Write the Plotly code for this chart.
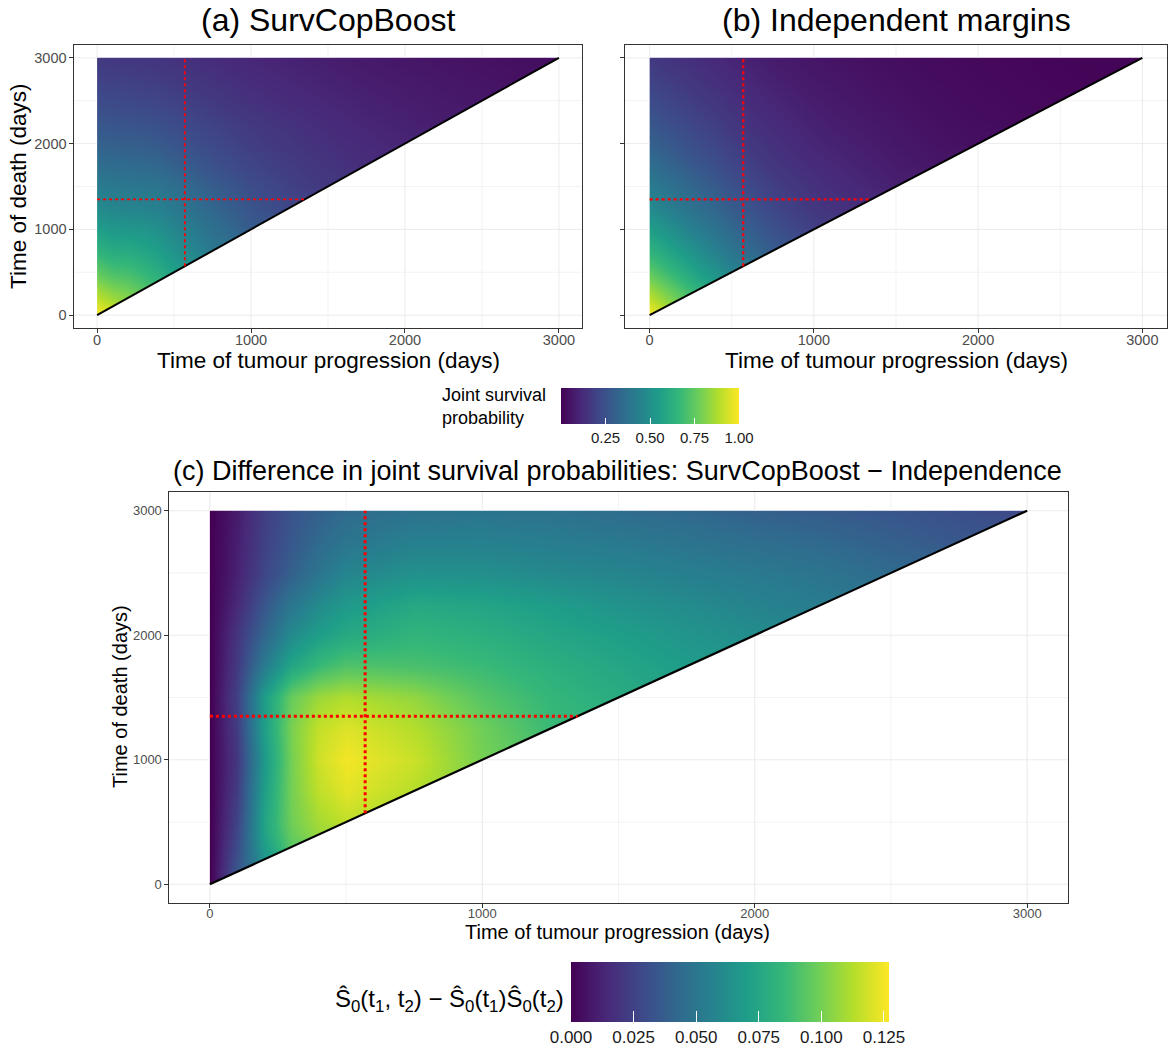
import plotly.graph_objects as go

W, H = 1168, 1052
FONT = "Liberation Sans, Arial, Helvetica, sans-serif"

# ---------------- data ----------------
# grid of times (days); rows = time of death t2, columns = time of tumour progression t1
t_grid = [0, 100, 200, 300, 400, 500, 750, 1000, 1250, 1500, 1750, 2000, 2250, 2500, 2750, 3000]

# (a) SurvCopBoost joint survival; row i holds the values for t1 <= t2
surv_boost = [
    [1.00],
    [0.95, 0.90],
    [0.90, 0.851, 0.813],
    [0.85, 0.804, 0.776, 0.732],
    [0.80, 0.756, 0.737, 0.697, 0.652],
    [0.75, 0.709, 0.697, 0.662, 0.62, 0.565],
    [0.65, 0.615, 0.611, 0.588, 0.557, 0.512, 0.406],
    [0.56, 0.531, 0.528, 0.52, 0.499, 0.461, 0.369, 0.29],
    [0.48, 0.46, 0.455, 0.45, 0.44, 0.409, 0.329, 0.262, 0.216],
    [0.42, 0.407, 0.40, 0.395, 0.388, 0.364, 0.295, 0.236, 0.197, 0.166],
    [0.36, 0.35, 0.346, 0.342, 0.331, 0.308, 0.252, 0.208, 0.177, 0.151, 0.128],
    [0.31, 0.302, 0.299, 0.294, 0.282, 0.263, 0.223, 0.185, 0.159, 0.136, 0.116, 0.101],
    [0.27, 0.261, 0.258, 0.253, 0.245, 0.23, 0.198, 0.166, 0.143, 0.122, 0.104, 0.091, 0.079],
    [0.235, 0.226, 0.222, 0.215, 0.21, 0.199, 0.17, 0.143, 0.123, 0.107, 0.093, 0.081, 0.071, 0.061],
    [0.20, 0.193, 0.191, 0.185, 0.18, 0.17, 0.146, 0.124, 0.108, 0.094, 0.081, 0.071, 0.062, 0.053, 0.045],
    [0.17, 0.165, 0.163, 0.161, 0.155, 0.146, 0.125, 0.107, 0.094, 0.081, 0.07, 0.06, 0.053, 0.046, 0.04, 0.035],
]

# (b) Independent margins joint survival
surv_indep = [
    [1.00],
    [0.95, 0.865],
    [0.90, 0.819, 0.747],
    [0.85, 0.774, 0.706, 0.638],
    [0.80, 0.728, 0.664, 0.60, 0.544],
    [0.75, 0.683, 0.623, 0.563, 0.51, 0.45],
    [0.65, 0.592, 0.54, 0.488, 0.442, 0.39, 0.293],
    [0.56, 0.51, 0.465, 0.42, 0.381, 0.336, 0.252, 0.19],
    [0.48, 0.437, 0.398, 0.36, 0.326, 0.288, 0.216, 0.163, 0.13],
    [0.42, 0.382, 0.349, 0.315, 0.286, 0.252, 0.189, 0.143, 0.113, 0.088],
    [0.36, 0.328, 0.299, 0.27, 0.245, 0.216, 0.162, 0.122, 0.097, 0.076, 0.058],
    [0.31, 0.282, 0.257, 0.233, 0.211, 0.186, 0.14, 0.105, 0.084, 0.065, 0.05, 0.039],
    [0.27, 0.246, 0.224, 0.203, 0.184, 0.162, 0.122, 0.092, 0.073, 0.057, 0.043, 0.034, 0.026],
    [0.235, 0.214, 0.195, 0.176, 0.16, 0.141, 0.106, 0.08, 0.063, 0.049, 0.038, 0.029, 0.022, 0.017],
    [0.20, 0.182, 0.166, 0.15, 0.136, 0.12, 0.09, 0.068, 0.054, 0.042, 0.032, 0.025, 0.019, 0.014, 0.01],
    [0.17, 0.155, 0.141, 0.128, 0.116, 0.102, 0.077, 0.058, 0.046, 0.036, 0.027, 0.021, 0.016, 0.012, 0.009, 0.007],
]

# (c) difference SurvCopBoost - Independence
surv_diff = [
    [0.0],
    [0.0, 0.035],
    [0.0, 0.032, 0.066],
    [0.0, 0.030, 0.070, 0.094],
    [0.0, 0.028, 0.073, 0.097, 0.108],
    [0.0, 0.026, 0.074, 0.099, 0.110, 0.115],
    [0.0, 0.023, 0.071, 0.100, 0.115, 0.122, 0.113],
    [0.0, 0.021, 0.068, 0.100, 0.118, 0.125, 0.117, 0.100],
    [0.0, 0.023, 0.071, 0.101, 0.116, 0.121, 0.113, 0.099, 0.086],
    [0.0, 0.025, 0.070, 0.097, 0.108, 0.112, 0.106, 0.093, 0.084, 0.078],
    [0.0, 0.022, 0.053, 0.075, 0.086, 0.092, 0.090, 0.086, 0.080, 0.075, 0.070],
    [0.0, 0.020, 0.042, 0.061, 0.071, 0.077, 0.083, 0.080, 0.075, 0.071, 0.066, 0.062],
    [0.0, 0.015, 0.034, 0.050, 0.061, 0.068, 0.076, 0.074, 0.070, 0.065, 0.061, 0.057, 0.053],
    [0.0, 0.012, 0.027, 0.039, 0.050, 0.058, 0.064, 0.063, 0.060, 0.058, 0.055, 0.052, 0.049, 0.044],
    [0.0, 0.011, 0.025, 0.035, 0.044, 0.050, 0.056, 0.056, 0.054, 0.052, 0.049, 0.046, 0.043, 0.039, 0.035],
    [0.0, 0.010, 0.024, 0.033, 0.039, 0.044, 0.048, 0.049, 0.048, 0.045, 0.043, 0.039, 0.037, 0.034, 0.031, 0.028],
]

marker_t1 = 570    # red dotted reference: time of progression
marker_t2 = 1350   # red dotted reference: time of death
t_max = 3000

axis_ticks = [0, 1000, 2000, 3000]
minor_ticks = [500, 1500, 2500]
cb1_ticks = [0.25, 0.50, 0.75, 1.00]
cb1_text = ["0.25", "0.50", "0.75", "1.00"]
cb2_ticks = [0.000, 0.025, 0.050, 0.075, 0.100, 0.125]
cb2_text = ["0.000", "0.025", "0.050", "0.075", "0.100", "0.125"]
cb1_range = (0.0, 1.0)
cb2_range = (0.0, 0.127)

# ---------------- helpers ----------------
def pad(rows):
    n = len(t_grid)
    return [r + [None] * (n - len(r)) for r in rows]

def fx(p):
    return p / W

def fy(p):
    return 1 - p / H

RANGE = [-150, 3150]
LO, HI = RANGE[0] - 80, RANGE[1] + 80

panels = [
    dict(xa="x", ya="y", xd=(74, 582), yd=(45, 328), z=surv_boost, ca="coloraxis",
         grid_w=(1.0, 0.6), diag_w=2.0, red_w=1.8, ylabels=True, tick_size=14.5),
    dict(xa="x2", ya="y2", xd=(625, 1167), yd=(45, 328), z=surv_indep, ca="coloraxis",
         grid_w=(1.0, 0.6), diag_w=2.0, red_w=2.2, ylabels=False, tick_size=14.5),
    dict(xa="x3", ya="y3", xd=(169, 1068), yd=(492, 903), z=surv_diff, ca="coloraxis2",
         grid_w=(1.1, 0.6), diag_w=2.2, red_w=3.0, ylabels=True, tick_size=13),
]

fig = go.Figure()

for p in panels:
    xa, ya = p["xa"], p["ya"]
    fig.add_trace(go.Heatmap(
        x=t_grid, y=t_grid, z=pad(p["z"]), zsmooth="best", connectgaps=True,
        coloraxis=p["ca"], xaxis=xa, yaxis=ya, hoverinfo="skip"))
    # white masks outside the triangle t1 <= t2 <= t_max
    mx = [LO, 0, 0, LO, None,
          0, HI, HI, 0, None,
          0, HI, HI, t_max, 0]
    my = [LO, LO, HI, HI, None,
          t_max, t_max, HI, HI, None,
          LO, LO, t_max, t_max, 0]
    fig.add_trace(go.Scatter(x=mx, y=my, mode="lines", fill="toself", fillcolor="white",
                             line=dict(width=0, color="white"), xaxis=xa, yaxis=ya,
                             hoverinfo="skip", showlegend=False))
    # grid lines (only where no tile is drawn)
    for vals, w in ((minor_ticks, p["grid_w"][1]), (axis_ticks, p["grid_w"][0])):
        gx, gy = [], []
        for g in vals:
            gx += [RANGE[0], 0, None, g, RANGE[1], None]
            gy += [g, g, None, g, g, None]
            gx += [g, g, None, g, g, None]
            gy += [RANGE[0], g, None, t_max, RANGE[1], None]
        fig.add_trace(go.Scatter(x=gx, y=gy, mode="lines", line=dict(color="#EBEBEB", width=w),
                                 xaxis=xa, yaxis=ya, hoverinfo="skip", showlegend=False))
    # diagonal t1 = t2
    fig.add_trace(go.Scatter(x=[0, t_max], y=[0, t_max], mode="lines",
                             line=dict(color="black", width=p["diag_w"]),
                             xaxis=xa, yaxis=ya, hoverinfo="skip", showlegend=False))
    # red dotted reference lines
    fig.add_trace(go.Scatter(x=[marker_t1, marker_t1, None, 0, marker_t2],
                             y=[marker_t1, t_max, None, marker_t2, marker_t2], mode="lines",
                             line=dict(color="red", width=p["red_w"], dash="dot"),
                             xaxis=xa, yaxis=ya, hoverinfo="skip", showlegend=False))

axis_common = dict(range=RANGE, showgrid=False, zeroline=False, showline=True,
                   linecolor="#333333", linewidth=1.1, mirror=True, ticks="outside",
                   ticklen=3.5, tickcolor="#333333", tickwidth=1.1, tickvals=axis_ticks,
                   ticktext=[str(v) for v in axis_ticks])
layout_axes = {}
for i, p in enumerate(panels):
    sfx = "" if i == 0 else str(i + 1)
    tf = dict(size=p["tick_size"], color="#4D4D4D", family=FONT)
    layout_axes["xaxis" + sfx] = dict(axis_common, domain=[fx(p["xd"][0]), fx(p["xd"][1])],
                                      anchor=p["ya"], tickfont=tf, ticklabelstandoff=-5)
    layout_axes["yaxis" + sfx] = dict(axis_common, domain=[fy(p["yd"][1]), fy(p["yd"][0])],
                                      anchor=p["xa"], showticklabels=p["ylabels"], tickfont=tf)

# colourbar geometry (pixels)
CB1 = dict(left=561, width=178, top=388, height=36, tick=6)
CB2 = dict(left=571, width=318, top=962, height=60, tick=11)

def cbar(cb, tickvals, ticktext, size):
    return dict(orientation="h", x=fx(cb["left"] + cb["width"] / 2), xanchor="center",
                y=fy(cb["top"]), yanchor="top",
                len=cb["width"], lenmode="pixels", thickness=cb["height"], thicknessmode="pixels",
                outlinewidth=0, xpad=0, ypad=0, tickvals=tickvals, ticktext=ticktext,
                ticks="inside", ticklen=cb["tick"], tickcolor="white", tickwidth=1.2,
                tickfont=dict(size=size, color="#1A1A1A", family=FONT))

shapes = []
for cb, vals, rng in ((CB1, cb1_ticks, cb1_range), (CB2, cb2_ticks, cb2_range)):
    for v in vals:
        xp = cb["left"] + (v - rng[0]) / (rng[1] - rng[0]) * cb["width"]
        shapes.append(dict(type="line", xref="paper", yref="paper",
                           x0=fx(xp), x1=fx(xp), y0=fy(cb["top"]), y1=fy(cb["top"] + cb["tick"]),
                           line=dict(color="white", width=1.2)))

annotations = [
    dict(text="(a) SurvCopBoost", x=fx(328), y=fy(20), font=dict(size=32)),
    dict(text="(b) Independent margins", x=fx(896), y=fy(20), font=dict(size=32)),
    dict(text="Time of tumour progression (days)", x=fx(328), y=fy(361), font=dict(size=22.5)),
    dict(text="Time of tumour progression (days)", x=fx(896), y=fy(361), font=dict(size=22.5)),
    dict(text="Time of death (days)", x=fx(18), y=fy(186), font=dict(size=22.5), textangle=-90),
    dict(text="(c) Difference in joint survival probabilities: SurvCopBoost \u2212 Independence",
         x=fx(618), y=fy(471), font=dict(size=27)),
    dict(text="Time of tumour progression (days)", x=fx(618), y=fy(932), font=dict(size=20)),
    dict(text="Time of death (days)", x=fx(120), y=fy(697), font=dict(size=20), textangle=-90),
    dict(text="Joint survival<br>probability", x=fx(440), y=fy(406), xanchor="left",
         align="left", font=dict(size=18)),
    dict(text="\u015c<sub>0</sub>(t<sub>1</sub>, t<sub>2</sub>) \u2212 "
              "\u015c<sub>0</sub>(t<sub>1</sub>)\u015c<sub>0</sub>(t<sub>2</sub>)",
         x=fx(566), y=fy(1000), xanchor="right", font=dict(size=24)),
]
for a in annotations:
    a.setdefault("xanchor", "center")
    a.update(xref="paper", yref="paper", yanchor="middle", showarrow=False)
    a["font"] = dict(a["font"], family=FONT, color="black")

fig.update_layout(
    width=W, height=H, margin=dict(l=0, r=0, t=0, b=0, autoexpand=False),
    paper_bgcolor="white", plot_bgcolor="white", showlegend=False,
    font=dict(family=FONT, color="black"),
    coloraxis=dict(colorscale="Viridis", cmin=cb1_range[0], cmax=cb1_range[1],
                   colorbar=cbar(CB1, cb1_ticks, cb1_text, 15)),
    coloraxis2=dict(colorscale="Viridis", cmin=cb2_range[0], cmax=cb2_range[1],
                    colorbar=cbar(CB2, cb2_ticks, cb2_text, 17)),
    annotations=annotations, shapes=shapes,
    **layout_axes,
)

fig.write_html("out.html")
